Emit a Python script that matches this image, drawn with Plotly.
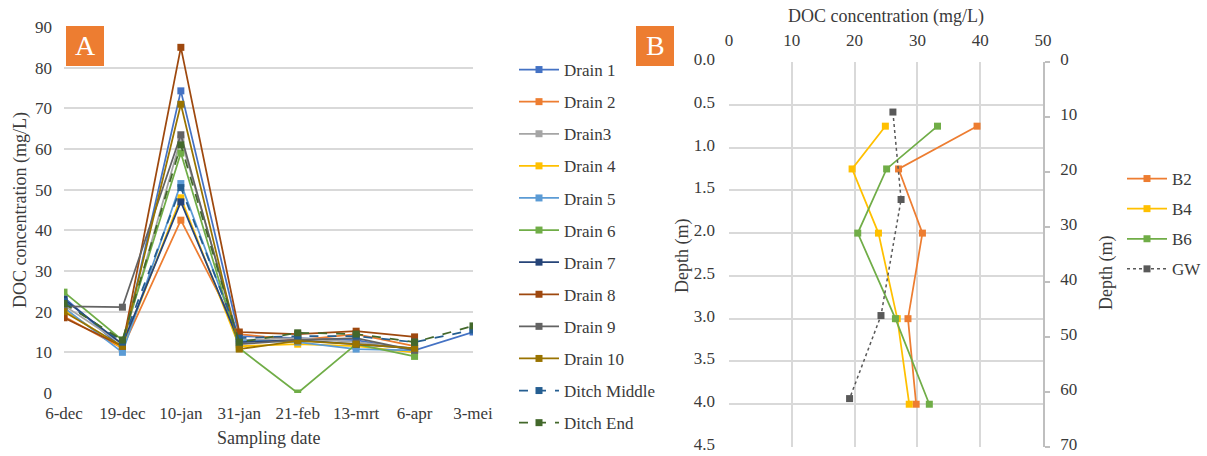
import plotly.graph_objects as go

W, H = 1207, 456

# ---------------- Panel A data ----------------
dates = ["6-dec", "19-dec", "10-jan", "31-jan", "21-feb", "13-mrt", "6-apr", "3-mei"]

drain1 = [23.5, 11.0, 74.3, 14.0, 13.5, 13.0, 10.5, 15.0]
drain2 = [18.8, 11.0, 42.5, 14.5, 13.0, 14.5, 11.5, None]
drain3 = [21.5, 12.0, 62.5, 13.0, 13.5, 12.5, 11.0, None]
drain4 = [20.5, 11.0, 48.0, 11.5, 12.0, 11.5, 10.0, None]
drain5 = [21.0, 10.0, 51.5, 13.0, 12.5, 10.8, 10.5, None]
drain6 = [24.8, 13.0, 59.0, 11.0, 0.0, 12.0, 9.0, None]
drain7 = [23.0, 12.0, 47.0, 12.5, 13.0, 12.0, 11.0, None]
drain8 = [18.5, 11.5, 85.0, 15.0, 14.5, 15.2, 13.8, None]
drain9 = [21.3, 21.1, 63.5, 12.0, 13.0, 13.5, 10.5, None]
drain10 = [20.0, 11.5, 71.0, 10.8, 12.8, 12.0, 11.0, None]
ditch_middle = [22.5, 12.5, 50.5, 13.5, 14.0, 14.0, 12.5, 15.5]
ditch_end = [22.0, 13.0, 61.0, 12.5, 14.8, 14.5, 12.5, 16.5]

series_a = [
    ("Drain 1", drain1, "#4472C4", "solid"),
    ("Drain 2", drain2, "#ED7D31", "solid"),
    ("Drain3", drain3, "#A5A5A5", "solid"),
    ("Drain 4", drain4, "#FFC000", "solid"),
    ("Drain 5", drain5, "#5B9BD5", "solid"),
    ("Drain 6", drain6, "#70AD47", "solid"),
    ("Drain 7", drain7, "#264478", "solid"),
    ("Drain 8", drain8, "#9E480E", "solid"),
    ("Drain 9", drain9, "#636363", "solid"),
    ("Drain 10", drain10, "#997300", "solid"),
    ("Ditch Middle", ditch_middle, "#255E91", "dash"),
    ("Ditch End", ditch_end, "#43682B", "dash"),
]

# ---------------- Panel B data ----------------
b2_doc = [39.5, 27.0, 30.8, 28.5, 29.8]
b2_depth = [0.75, 1.25, 2.0, 3.0, 4.0]
b4_doc = [24.9, 19.6, 23.8, 26.8, 28.7]
b4_depth = [0.75, 1.25, 2.0, 3.0, 4.0]
b6_doc = [33.2, 25.1, 20.5, 26.5, 31.9]
b6_depth = [0.75, 1.25, 2.0, 3.0, 4.0]
gw_doc = [26.1, 27.4, 24.2, 19.2]
gw_depth = [9.1, 25.0, 46.1, 61.2]

FONT = "Liberation Serif, Cambria, DejaVu Serif, serif"
TXT = "#3A3A3A"
GRID = "#D9D9D9"

fig = go.Figure()

for i, (name, vals, col, dash) in enumerate(series_a):
    fig.add_trace(go.Scatter(
        x=dates, y=vals, name=name, mode="lines+markers",
        line=dict(color=col, width=1.75, dash=dash),
        marker=dict(symbol="square", size=7, color=col),
        xaxis="x", yaxis="y", legend="legend", legendgroup=f"a{i}",
        connectgaps=False,
    ))

series_b = [
    ("B2", b2_doc, b2_depth, "#ED7D31", "solid", "y2"),
    ("B4", b4_doc, b4_depth, "#FFC000", "solid", "y2"),
    ("B6", b6_doc, b6_depth, "#70AD47", "solid", "y2"),
    ("GW", gw_doc, gw_depth, "#595959", "dot", "y3"),
]
for i, (name, xs, ys, col, dash, ya) in enumerate(series_b):
    fig.add_trace(go.Scatter(
        x=xs, y=ys, name=name, mode="lines+markers",
        line=dict(color=col, width=1.5 if dash == "dot" else 1.75, dash=dash),
        marker=dict(symbol="square", size=7, color=col),
        xaxis="x2", yaxis=ya, legend="legend2", legendgroup=f"b{i}",
    ))

def px_x(p):
    return p / W

def px_y(p):
    return 1 - p / H

tickfont = dict(family=FONT, size=17, color=TXT)

fig.update_layout(
    width=W, height=H,
    margin=dict(l=0, r=0, t=0, b=0, autoexpand=False),
    paper_bgcolor="white", plot_bgcolor="rgba(0,0,0,0)",
    font=dict(family=FONT, size=17, color=TXT),
    showlegend=True,
    xaxis=dict(
        domain=[px_x(64), px_x(473)], anchor="y", automargin=False,
        type="category", range=[0, 7],
        showgrid=False, zeroline=False, showline=False,
        ticks="", tickfont=tickfont, ticklabelstandoff=8,
        ticklabeloverflow="allow",
    ),
    yaxis=dict(
        domain=[px_y(393), px_y(27)], anchor="x", automargin=False,
        range=[0, 90], dtick=10, showgrid=True, gridcolor=GRID, gridwidth=1.5,
        zeroline=False, showline=False, ticks="", tickfont=tickfont,
        ticklabelstandoff=11, ticklabeloverflow="allow",
    ),
    xaxis2=dict(
        domain=[px_x(729), px_x(1043)], anchor="y2", side="top", automargin=False,
        range=[0, 50], dtick=10, showgrid=True, gridcolor=GRID, gridwidth=1.5,
        zeroline=False, showline=False, ticks="", tickfont=tickfont,
        ticklabelstandoff=12, ticklabeloverflow="allow",
    ),
    yaxis2=dict(
        domain=[px_y(447), px_y(62)], anchor="x2", automargin=False,
        range=[4.5, 0], dtick=0.5, tickformat=".1f",
        showgrid=True, gridcolor=GRID, gridwidth=1.5,
        zeroline=False, showline=False, ticks="", tickfont=tickfont,
        ticklabelstandoff=13, ticklabeloverflow="allow", ticklabelshift=3,
    ),
    yaxis3=dict(
        overlaying="y2", anchor="x2", side="right", automargin=False,
        range=[70, 0], dtick=10, showgrid=False, zeroline=False,
        showline=True, linecolor="#BFBFBF", linewidth=1.5,
        ticks="outside", ticklen=5, tickcolor="#BFBFBF", tickwidth=1.5,
        tickfont=tickfont, ticklabelstandoff=7, ticklabeloverflow="allow",
        ticklabelshift=3,
    ),
    legend=dict(
        x=px_x(514), y=px_y(52), xanchor="left", yanchor="top",
        font=dict(family=FONT, size=17, color=TXT),
        tracegroupgap=7, itemwidth=40, bgcolor="rgba(0,0,0,0)",
    ),
    legend2=dict(
        x=px_x(1122), y=px_y(161), xanchor="left", yanchor="top",
        font=dict(family=FONT, size=17, color=TXT),
        tracegroupgap=5, itemwidth=40, bgcolor="rgba(0,0,0,0)",
    ),
)

# Axis titles as annotations
annos = [
    dict(text="DOC concentration (mg/L)", x=px_x(20), y=px_y(210), textangle=-90),
    dict(text="Sampling date", x=px_x(268), y=px_y(438), textangle=0),
    dict(text="DOC concentration (mg/L)", x=px_x(886), y=px_y(16), textangle=0),
    dict(text="Depth (m)", x=px_x(682), y=px_y(256), textangle=-90),
    dict(text="Depth (m)", x=px_x(1106), y=px_y(273), textangle=-90),
]
for a in annos:
    fig.add_annotation(xref="paper", yref="paper", x=a["x"], y=a["y"], text=a["text"],
                       textangle=a["textangle"], showarrow=False,
                       xanchor="center", yanchor="middle",
                       font=dict(family=FONT, size=18, color=TXT))

# Panel labels
for lab, x0, x1 in [("A", 66, 104), ("B", 636, 674)]:
    fig.add_shape(type="rect", xref="paper", yref="paper",
                  x0=px_x(x0), x1=px_x(x1), y0=px_y(66), y1=px_y(26),
                  fillcolor="#ED7D31", line=dict(width=0))
    fig.add_annotation(xref="paper", yref="paper", x=px_x((x0 + x1) / 2), y=px_y(46),
                       text=lab, showarrow=False, xanchor="center", yanchor="middle",
                       font=dict(family=FONT, size=28, color="white"))

fig.write_html("out.html")
